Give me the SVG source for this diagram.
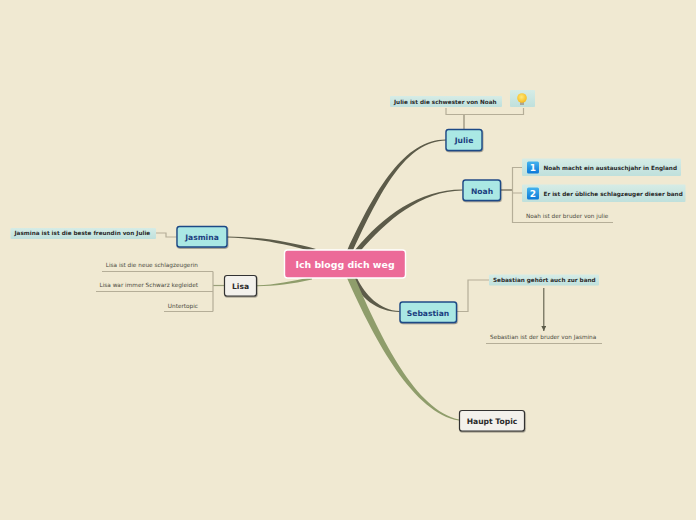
<svg xmlns="http://www.w3.org/2000/svg" width="696" height="520" viewBox="0 0 696 520">
<style>
text{font-family:"DejaVu Sans","Liberation Sans",sans-serif}
.topic{fill:#aae8e4;stroke:#1f4a86;stroke-width:1.4}
.plain{fill:#f3f1ec;stroke:#333;stroke-width:1.2}
.tl{font-size:7.6px;font-weight:bold;fill:#1c3f80;text-anchor:middle}
.pl{font-size:7.6px;font-weight:bold;fill:#2b2b2b;text-anchor:middle}
.sub{fill:url(#subg)}
.st{font-size:5.7px;font-weight:bold;fill:#2a2a2a}
.nt{font-size:5.75px;fill:#4a4a40}
.lnk{fill:none;stroke:#b5ae98;stroke-width:1.2}
.ul{fill:none;stroke:#b5ae98;stroke-width:1}
.dk{fill:#5c5b49}
.ol{fill:#8f9d6b}
</style>
<defs>
<linearGradient id="subg" x1="0" y1="0" x2="0" y2="1"><stop offset="0" stop-color="#d6ece6"/><stop offset="1" stop-color="#bfe0dc"/></linearGradient>
<linearGradient id="num" x1="0" y1="0" x2="0" y2="1"><stop offset="0" stop-color="#45b4ee"/><stop offset="1" stop-color="#0a78d8"/></linearGradient>
<radialGradient id="bulb" cx=".45" cy=".4" r=".7"><stop offset="0" stop-color="#ffe97a"/><stop offset="1" stop-color="#f6b40e"/></radialGradient>
<filter id="sh" x="-10%" y="-10%" width="120%" height="130%"><feDropShadow dx="0.5" dy="1" stdDeviation="0.7" flood-color="#000" flood-opacity=".4"/></filter>
<marker id="arr" markerWidth="6" markerHeight="5" refX="5" refY="2.5" orient="auto" markerUnits="userSpaceOnUse"><path d="M0,0L5,2.5L0,5Z" fill="#5c5b49"/></marker>
</defs>
<rect width="696" height="520" fill="#f0e9d2"/>
<g id="connectors">
<path class="dk" d="M347.300,250C375.500,189 404.500,139.300 446,139.500L446,140.500C406,141 380.500,191 352.700,251Z"/>
<path class="dk" d="M355,250C383,216 419.500,189.300 462.500,189.500L462.500,190.500C421,191 387,220 359.500,252Z"/>
<path class="dk" d="M227,236.500C262,237 290,242 316,249L311,251C285,244 260,238.500 227,237.500Z"/>
<path class="ol" d="M257,285.300C275,285 292,281 312,277L312,279.500C292,284 275,286 257,286.300Z"/>
<path class="dk" d="M351,278C359,297 377,312 399.500,312L399.500,311C380,310.500 365,295 357,278Z"/>
<path class="ol" d="M347,278C375,341.500 414,413.500 459,420.500L459,419.500C416,410.500 381,338.500 355,278Z"/>
<path d="M464,129.500V114" fill="none" stroke="#a8a18c" stroke-width="1.6"/>
<path class="lnk" d="M446,108V114.500H523.500V108"/>
<path d="M501,190H512" fill="none" stroke="#7a7664" stroke-width="1.4"/>
<path class="lnk" d="M522,167.500H512.500V222.500H527M512.500,193H522"/>
<path class="ul" d="M522,222.500H613"/>
<path class="lnk" d="M176.500,237H166V233H156"/>
<path d="M224,285.500H213" fill="none" stroke="#9aa07a" stroke-width="1.2"/>
<path class="lnk" d="M213,271.500V311.500M213,271.500H102M213,291.500H96M213,311.500H164"/>
<path class="lnk" d="M456.500,311.500H468V280H490"/>
<path d="M543.800,288V331" fill="none" stroke="#5c5b49" stroke-width="1.1" marker-end="url(#arr)"/>
<path class="ul" d="M486,343.500H602"/>
</g>
<g id="central"><rect x="284.500" y="250" width="121" height="28" rx="3" fill="#ec6a98" stroke="#fff" stroke-width="1.4"/><text x="345" y="268" text-anchor="middle" font-size="9.400" font-weight="bold" fill="#fff">Ich blogg dich weg</text></g>
<g id="julie"><rect class="topic" x="446" y="129.500" width="36" height="21" rx="2.500" filter="url(#sh)"/><text class="tl" x="464" y="143">Julie</text></g>
<g id="julie-note"><rect class="sub" x="390" y="96" width="112" height="11" rx="1"/><text class="st" x="394" y="104">Julie ist die schwester von Noah</text></g>
<g id="bulb-node"><rect class="sub" x="510" y="90" width="25" height="17" rx="1"/><path d="M520,105h4v-3.500h-4z" fill="#a9a79a"/><circle cx="522" cy="98" r="4.800" fill="url(#bulb)"/></g>
<g id="noah"><rect class="topic" x="463" y="180" width="37.500" height="20.500" rx="2.500" filter="url(#sh)"/><text class="tl" x="482" y="193.500">Noah</text></g>
<g id="noah-1"><rect class="sub" x="522" y="158.500" width="159" height="17.500" rx="1"/><rect x="527" y="161.500" width="12" height="12" rx="1.500" fill="url(#num)"/><text x="533" y="171" text-anchor="middle" font-size="9" font-weight="bold" fill="#fff">1</text><text class="st" x="543.500" y="170">Noah macht ein austauschjahr in England</text></g>
<g id="noah-2"><rect class="sub" x="522" y="184.500" width="163.500" height="17.500" rx="1"/><rect x="527" y="187.500" width="12" height="12" rx="1.500" fill="url(#num)"/><text x="533" y="197" text-anchor="middle" font-size="9" font-weight="bold" fill="#fff">2</text><text class="st" x="543.500" y="196">Er ist der übliche schlagzeuger dieser band</text></g>
<g id="noah-3"><text class="nt" x="526" y="218">Noah ist der bruder von julie</text></g>
<g id="jasmina"><rect class="topic" x="177" y="226.500" width="50" height="20.500" rx="2.500" filter="url(#sh)"/><text class="tl" x="202" y="240">Jasmina</text></g>
<g id="jasmina-note"><rect class="sub" x="10.500" y="228" width="145.500" height="11" rx="1"/><text class="st" x="14.500" y="235">Jasmina ist ist die beste freundin von Julie</text></g>
<g id="lisa"><rect class="plain" x="224.500" y="275.500" width="32" height="20.500" rx="2.500" filter="url(#sh)"/><text class="pl" x="240.500" y="288.500">Lisa</text></g>
<g id="lisa-1"><text class="nt" x="198" y="267" text-anchor="end">Lisa ist die neue schlagzeugerin</text></g>
<g id="lisa-2"><text class="nt" x="198" y="287" text-anchor="end">Lisa war immer Schwarz kegleidet</text></g>
<g id="lisa-3"><text class="nt" x="198" y="308" text-anchor="end">Untertopic</text></g>
<g id="sebastian"><rect class="topic" x="400" y="302" width="56.500" height="20.500" rx="2.500" filter="url(#sh)"/><text class="tl" x="428" y="315.500">Sebastian</text></g>
<g id="sebastian-note"><rect class="sub" x="489" y="274.500" width="110" height="11" rx="1"/><text class="st" x="493" y="282">Sebastian gehört auch zur band</text></g>
<g id="sebastian-2"><text class="nt" x="490" y="339">Sebastian ist der bruder von Jasmina</text></g>
<g id="haupt"><rect class="plain" x="459.500" y="410.500" width="65" height="20.500" rx="2.500" filter="url(#sh)"/><text class="pl" x="492" y="423.500">Haupt Topic</text></g>
</svg>
